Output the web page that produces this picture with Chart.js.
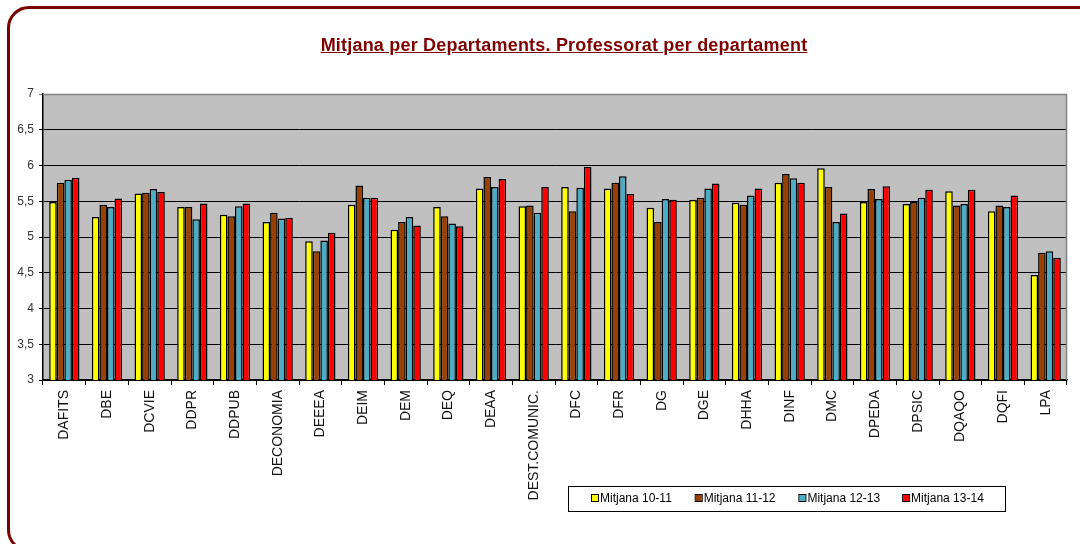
<!DOCTYPE html>
<html>
<head>
<meta charset="utf-8">
<script src="https://cdn.jsdelivr.net/npm/chart.js@4/dist/chart.umd.min.js"></script>
<style>
  html, body { margin: 0; padding: 0; background: #fff; overflow: hidden; }
  #wrap { position: relative; width: 1080px; height: 544px; }
  #frame {
    position: absolute; left: 7px; top: 6px; width: 1090px; height: 540px;
    border: 3px solid #7b0000; border-radius: 22px; pointer-events: none;
  }
  #title {
    position: absolute; left: 0; top: 35px; width: 1128px; text-align: center;
    font: bold 18px "Liberation Sans", Arial, sans-serif; color: #800000;
    text-decoration: underline; letter-spacing: 0.2px;
  }
  canvas { position: absolute; left: 0; top: 0; }
</style>
</head>
<body>
<div id="wrap">
  <canvas id="chart" width="1080" height="544"></canvas>
  <div id="title">Mitjana  per Departaments. Professorat per departament</div>
  <div id="frame"></div>
</div>
<script>
const departments = ['DAFITS', 'DBE', 'DCVIE', 'DDPR', 'DDPUB', 'DECONOMIA', 'DEEEA', 'DEIM', 'DEM', 'DEQ',
  'DEAA', 'DEST.COMUNIC.', 'DFC', 'DFR', 'DG', 'DGE', 'DHHA', 'DINF', 'DMC', 'DPEDA', 'DPSIC', 'DQAQO', 'DQFI', 'LPA'];

const mitjana1011 = [5.49, 5.28, 5.61, 5.42, 5.31, 5.21, 4.94, 5.45, 5.10, 5.42,
  5.68, 5.43, 5.70, 5.68, 5.41, 5.52, 5.48, 5.76, 5.96, 5.49, 5.46, 5.64, 5.36, 4.47];
const mitjana1112 = [5.76, 5.45, 5.62, 5.42, 5.29, 5.34, 4.80, 5.72, 5.21, 5.29,
  5.84, 5.44, 5.36, 5.76, 5.21, 5.55, 5.45, 5.88, 5.70, 5.67, 5.49, 5.44, 5.44, 4.78];
const mitjana1213 = [5.80, 5.42, 5.67, 5.25, 5.43, 5.26, 4.95, 5.55, 5.28, 5.19,
  5.70, 5.34, 5.69, 5.85, 5.53, 5.68, 5.58, 5.82, 5.21, 5.53, 5.55, 5.46, 5.42, 4.80];
const mitjana1314 = [5.83, 5.54, 5.63, 5.47, 5.47, 5.27, 5.06, 5.55, 5.16, 5.15,
  5.81, 5.70, 5.98, 5.60, 5.52, 5.75, 5.68, 5.76, 5.33, 5.71, 5.66, 5.66, 5.58, 4.71];

const seriesLabels = ['Mitjana 10-11', 'Mitjana 11-12', 'Mitjana 12-13', 'Mitjana 13-14'];
const seriesColors = ['#FFFF00', '#993F00', '#4BACC6', '#FF0000'];
const seriesValues = [mitjana1011, mitjana1112, mitjana1213, mitjana1314];

const plotBackground = {
  id: 'plotBackground',
  beforeDraw(chart) {
    const { ctx, chartArea: a } = chart;
    ctx.save();
    ctx.fillStyle = '#C0C0C0';
    ctx.fillRect(a.left, a.top, a.right - a.left, a.bottom - a.top);
    ctx.restore();
  },
  afterDatasetsDraw(chart) {
    const { ctx, chartArea: a } = chart;
    ctx.save();
    ctx.strokeStyle = '#808080';
    ctx.lineWidth = 1.5;
    ctx.beginPath();
    ctx.moveTo(a.left, a.top + 0.5);
    ctx.lineTo(a.right - 0.5, a.top + 0.5);
    ctx.lineTo(a.right - 0.5, a.bottom);
    ctx.stroke();
    ctx.restore();
  }
};

// legend box, drawn from the datasets
const boxLegend = {
  id: 'boxLegend',
  afterDraw(chart) {
    const ctx = chart.ctx;
    ctx.save();
    ctx.strokeStyle = '#000';
    ctx.lineWidth = 1;
    ctx.strokeRect(568.5, 486.5, 437, 25);
    ctx.font = '12px "Liberation Sans", Arial, sans-serif';
    ctx.textBaseline = 'middle';
    chart.data.datasets.forEach((ds, i) => {
      const x = 592 + i * 103.7;
      ctx.fillStyle = ds.backgroundColor;
      ctx.fillRect(x, 495, 6, 6);
      ctx.strokeStyle = '#000';
      ctx.strokeRect(x - 0.5, 494.5, 7, 7);
      ctx.fillStyle = '#000';
      ctx.fillText(ds.label, x + 8, 499);
    });
    ctx.restore();
  }
};

new Chart(document.getElementById('chart'), {
  type: 'bar',
  data: {
    labels: departments,
    datasets: seriesValues.map((values, i) => ({
      label: seriesLabels[i],
      data: values,
      backgroundColor: seriesColors[i],
      borderColor: '#000',
      borderWidth: 1.5,
      borderSkipped: 'bottom',
      categoryPercentage: 0.71,
      barPercentage: 1.0,
    })),
  },
  options: {
    responsive: false,
    animation: false,
    layout: {
      padding: { left: 0, top: 94, right: 13, bottom: 0 },
    },
    scales: {
      x: {
        afterFit: (axis) => { axis.height = 164; },
        grid: {
          offset: true,
          drawOnChartArea: false,
          color: '#000',
          tickLength: 5,
        },
        border: { color: '#000', width: 1.5 },
        ticks: {
          minRotation: 90,
          maxRotation: 90,
          autoSkip: false,
          color: '#111',
          padding: 5,
          font: { family: '"Liberation Sans", Arial, sans-serif', size: 14 },
        },
      },
      y: {
        min: 3,
        max: 7,
        afterFit: (axis) => { axis.width = 43; },
        grid: {
          color: (c) => (c.tick && c.tick.value === 7 ? '#808080' : '#000'),
          tickLength: 4,
        },
        border: { color: '#000', width: 1.5 },
        ticks: {
          stepSize: 0.5,
          color: '#333',
          padding: 5,
          font: { family: '"Liberation Sans", Arial, sans-serif', size: 12 },
          callback: (v) => String(v).replace('.', ','),
        },
      },
    },
    plugins: {
      legend: { display: false },
      title: { display: false },
      tooltip: { enabled: false },
    },
  },
  plugins: [plotBackground, boxLegend],
});
</script>
</body>
</html>
